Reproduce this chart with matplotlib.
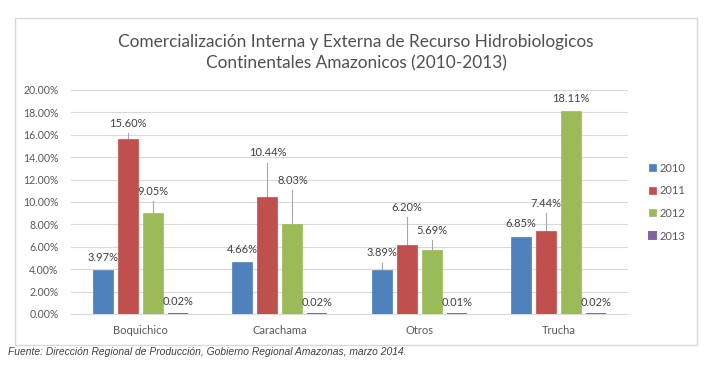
import numpy as np
import matplotlib.pyplot as plt
from matplotlib.patches import Rectangle

# datos del grafico
especies = ["Boquichico", "Carachama", "Otros", "Trucha"]
anios = ["2010", "2011", "2012", "2013"]
v2010 = [3.97, 4.66, 3.89, 6.85]
v2011 = [15.60, 10.44, 6.20, 7.44]
v2012 = [9.05, 8.03, 5.69, 18.11]
v2013 = [0.02, 0.02, 0.01, 0.02]
valores = [v2010, v2011, v2012, v2013]

# altura (en %) donde Excel dejo cada etiqueta, por serie
etq2010 = [5.04, 5.80, 5.45, 8.04]
etq2011 = [17.05, 14.38, 9.55, 9.91]
etq2012 = [10.98, 11.96, 7.50, 19.24]
etq2013 = [1.16, 1.07, 1.07, 1.07]
etiquetas = [etq2010, etq2011, etq2012, etq2013]

colores = ["#4F81BD", "#C0504D", "#9BBB59", "#8064A2"]

plt.rcParams["font.family"] = ["Lato", "DejaVu Sans"]

fig = plt.figure(figsize=(7.09, 3.70), dpi=100)
fig.patches.append(Rectangle((15 / 709, 1 - 345 / 370), 682 / 709, 327 / 370,
                             transform=fig.transFigure, fill=False,
                             edgecolor="#D9D9D9", linewidth=1))

ax = fig.add_axes([71 / 709, 1 - 314 / 370, 557 / 709, 224 / 370])

x = np.arange(len(especies))
ancho = 0.1436
paso = 0.18
for i, (serie, lab, col, anio) in enumerate(zip(valores, etiquetas, colores, anios)):
    pos = x + (i - 1.5) * paso
    ax.bar(pos, serie, width=ancho, color=col, edgecolor=col, linewidth=1.4 if i == 3 else 0.5,
           label=anio, zorder=3)
    for px, v, ly in zip(pos, serie, lab):
        ax.text(px, ly, f"{v:.2f}%", ha="center", va="center", fontsize=8,
                color="#404040", zorder=4)
        if ly - v > 1.3:
            ax.plot([px, px], [ly - 0.9, v], color="#A6A6A6", linewidth=0.8, zorder=2)

ax.set_xlim(-0.5, 3.5)
ax.set_ylim(0, 20)
ax.set_yticks(np.arange(0, 20.1, 2))
ax.set_yticklabels([f"{t:.2f}%" for t in np.arange(0, 20.1, 2)])
ax.set_xticks(x)
ax.set_xticklabels(especies)
ax.tick_params(length=0, labelsize=8, labelcolor="#595959")
ax.tick_params(axis="y", pad=9, labelsize=7.6)
ax.tick_params(axis="x", pad=8)
ax.grid(axis="y", color="#D9D9D9", linewidth=0.8, zorder=0)
for s in ["top", "right", "left"]:
    ax.spines[s].set_visible(False)
ax.spines["bottom"].set_color("#D9D9D9")

ax.legend(loc="center left", bbox_to_anchor=(1.02, 0.5), frameon=False,
          fontsize=8, handlelength=0.6, handleheight=0.6, handletextpad=0.3,
          labelspacing=1.05, labelcolor="#595959")

fig.text(356 / 709, 1 - 53 / 370,
         "Comercialización Interna y Externa de Recurso Hidrobiologicos\n"
         "Continentales Amazonicos (2010-2013)",
         ha="center", va="center", fontsize=12.4,
         color="#505050", linespacing=1.4)

fig.text(8 / 709, 1 - 352 / 370,
         "Fuente: Dirección Regional de Producción, Gobierno Regional Amazonas, marzo 2014.",
         ha="left", va="center", fontsize=7.4, style="italic",
         family="Liberation Sans", color="#404040")

fig.savefig("out.png", dpi=100)
